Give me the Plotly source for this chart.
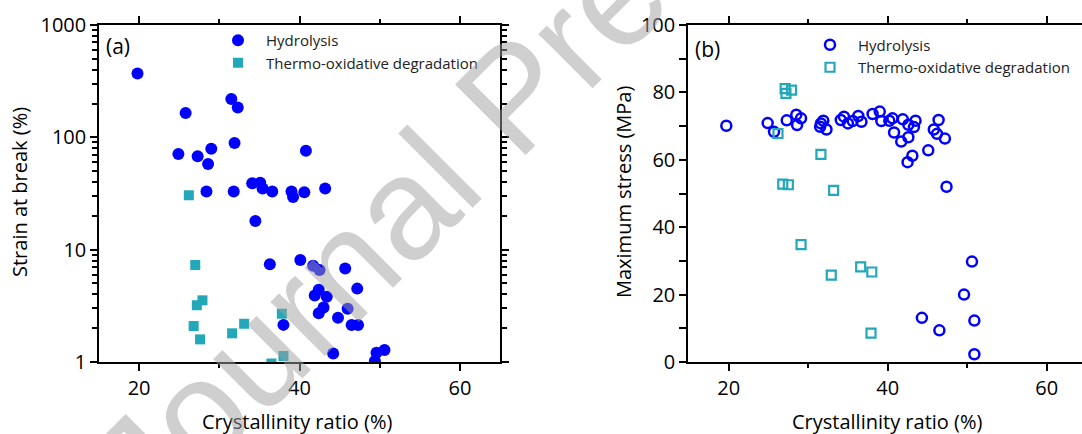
import plotly.graph_objects as go

# ---------------- data ----------------
# (a) Strain at break vs crystallinity
a_hyd_x = [19.8, 25.8, 31.5, 32.3, 24.9, 27.3, 29.0, 28.6, 31.9, 40.8,
           34.1, 35.1, 35.4, 36.6, 28.4, 31.8, 39.0, 39.2, 40.6, 43.2,
           34.5, 36.3, 40.1, 41.7, 42.5, 45.7, 38.0, 42.4, 41.9, 43.4,
           43.0, 42.4, 44.8, 44.2, 47.2, 46.0, 46.5, 47.3, 49.6, 50.6, 49.4]
a_hyd_y = [370, 165, 219, 184, 71, 68, 79, 58, 89, 76,
           39, 39.5, 35, 33, 33, 33, 33, 29.4, 32.4, 35,
           18, 7.4, 8.1, 7.2, 6.6, 6.8, 2.14, 4.4, 3.9, 3.8,
           3.05, 2.72, 2.48, 1.19, 4.5, 2.98, 2.13, 2.13, 1.21, 1.28, 1.02]
a_th_x = [26.2, 27.0, 27.9, 27.2, 26.8, 27.6, 31.6, 33.1, 37.8, 38.0, 36.5]
a_th_y = [30.5, 7.3, 3.54, 3.2, 2.09, 1.59, 1.80, 2.19, 2.69, 1.13, 0.97]

# (b) Maximum stress vs crystallinity
b_hyd_x = [19.7, 24.9, 25.7, 27.3, 28.5, 29.1, 28.6, 31.5, 31.6, 31.9,
           32.3, 34.1, 34.5, 35.0, 35.6, 36.3, 36.7, 38.1, 39.0, 39.2,
           40.2, 40.6, 40.8, 41.9, 41.7, 42.6, 42.6, 43.5, 43.3, 43.1,
           42.5, 45.1, 46.4, 45.8, 46.2, 47.2, 47.4, 50.6, 49.6, 44.3,
           46.5, 50.9, 50.9]
b_hyd_y = [70.1, 70.9, 68.3, 71.7, 73.4, 72.3, 70.3, 69.8, 70.8, 71.6,
           69.0, 71.8, 72.8, 70.8, 71.5, 73.0, 71.3, 73.6, 74.3, 71.5,
           71.6, 72.3, 68.1, 72.0, 65.4, 66.7, 70.4, 71.6, 69.7, 61.2,
           59.3, 62.8, 71.8, 69.0, 67.7, 66.3, 52.0, 29.8, 20.0, 13.1,
           9.4, 12.3, 2.3]
b_th_x = [27.1, 27.9, 27.2, 26.2, 31.6, 26.8, 27.5, 33.2, 29.1, 32.9, 36.6, 38.0, 37.9]
b_th_y = [81.1, 80.7, 79.7, 67.8, 61.6, 52.8, 52.6, 50.9, 34.8, 25.8, 28.2, 26.7, 8.55]

a_ytickvals = [1, 10, 100, 1000]
a_yticktext = ["1", "10", "100", "1000"]

# ---------------- style ----------------
FONT = "Open Sans"
BLUE = "#0000FF"
TEAL = "#22A8B8"
W, H = 1082, 434
MT, MB = 25, 72
PH = H - MT - MB


def px(x):
    return x / W


def py(y):
    return (H - MB - y) / PH


fig = go.Figure()
fig.add_trace(go.Scatter(x=a_hyd_x, y=a_hyd_y, mode="markers", name="Hydrolysis",
                         marker=dict(symbol="circle", size=12, color=BLUE),
                         xaxis="x", yaxis="y", legend="legend"))
fig.add_trace(go.Scatter(x=a_th_x, y=a_th_y, mode="markers", name="Thermo-oxidative degradation",
                         marker=dict(symbol="square", size=10, color=TEAL),
                         xaxis="x", yaxis="y", legend="legend"))
fig.add_trace(go.Scatter(x=b_hyd_x, y=b_hyd_y, mode="markers", name="Hydrolysis",
                         marker=dict(symbol="circle-open", size=10, color=BLUE, line=dict(width=2.5, color=BLUE)),
                         xaxis="x2", yaxis="y2", legend="legend2"))
fig.add_trace(go.Scatter(x=b_th_x, y=b_th_y, mode="markers", name="Thermo-oxidative degradation",
                         marker=dict(symbol="square-open", size=9, color=TEAL, line=dict(width=2.2, color=TEAL)),
                         xaxis="x2", yaxis="y2", legend="legend2"))

axis_common = dict(showline=True, linecolor="black", linewidth=1.5, ticks="outside",
                   ticklen=7, tickwidth=1.5, tickcolor="black", showgrid=False, zeroline=False,
                   tickfont=dict(family=FONT, size=20, color="black"))

fig.update_layout(
    width=W, height=H,
    margin=dict(l=0, r=0, t=MT, b=MB, pad=0),
    paper_bgcolor="white", plot_bgcolor="white",
    font=dict(family=FONT, color="black"),
    xaxis=dict(domain=[px(99), px(500)], range=[15, 65], tickvals=[20, 40, 60], mirror="ticks",
               minor=dict(tickvals=[30, 50], ticks="outside", ticklen=4, tickwidth=1.5, tickcolor="black"),
               anchor="y", **axis_common),
    yaxis=dict(type="log", range=[0, 3], tickvals=a_ytickvals, ticktext=a_yticktext, mirror="ticks",
               minor=dict(tickvals=[m * 10 ** k for k in range(3) for m in range(2, 10)],
                          ticks="outside", ticklen=5, tickwidth=1.5, tickcolor="black"),
               anchor="x", **axis_common),
    xaxis2=dict(domain=[px(688), 1.0], range=[14.88, 64.44], tickvals=[20, 40, 60], mirror="ticks",
                minor=dict(tickvals=[30, 50], ticks="outside", ticklen=4, tickwidth=1.5, tickcolor="black"),
                anchor="y2", **axis_common),
    yaxis2=dict(range=[0, 100], tickvals=[0, 20, 40, 60, 80, 100], mirror=False,
                minor=dict(tickvals=[10, 30, 50, 70, 90], ticks="outside", ticklen=7, tickwidth=1.5, tickcolor="black"),
                anchor="x2", **axis_common),
    legend=dict(x=px(238 - 28), y=py(24), xanchor="left", yanchor="top", itemwidth=46,
                bgcolor="rgba(0,0,0,0)", borderwidth=0, tracegroupgap=0,
                font=dict(family=FONT, size=15, color="#222222")),
    legend2=dict(x=px(830 - 28), y=py(28.5), xanchor="left", yanchor="top", itemwidth=46,
                 bgcolor="rgba(0,0,0,0)", borderwidth=0, tracegroupgap=0,
                 font=dict(family=FONT, size=15, color="#222222")),
    showlegend=True,
)

ann = []
tfont = dict(family=FONT, size=20, color="black")
ann.append(dict(text="(a)", x=px(104), y=py(46), xref="paper", yref="paper", xanchor="left", yanchor="middle",
                showarrow=False, font=dict(family=FONT, size=21, color="black")))
ann.append(dict(text="(b)", x=px(693), y=py(49), xref="paper", yref="paper", xanchor="left", yanchor="middle",
                showarrow=False, font=dict(family=FONT, size=21, color="black")))
ann.append(dict(text="Strain at break (%)", x=px(19), y=py(192), xref="paper", yref="paper", textangle=-90,
                xanchor="center", yanchor="middle", showarrow=False, font=tfont))
ann.append(dict(text="Maximum stress (MPa)", x=px(623), y=py(192), xref="paper", yref="paper", textangle=-90,
                xanchor="center", yanchor="middle", showarrow=False, font=tfont))
ann.append(dict(text="Crystallinity ratio (%)", x=px(297), y=py(421), xref="paper", yref="paper",
                xanchor="center", yanchor="middle", showarrow=False, font=tfont))
ann.append(dict(text="Crystallinity ratio (%)", x=px(887), y=py(421), xref="paper", yref="paper",
                xanchor="center", yanchor="middle", showarrow=False, font=tfont))
# watermark
ann.append(dict(text="Journal Pre-proof", x=px(513), y=py(97), xref="paper", yref="paper", textangle=-45,
                xanchor="center", yanchor="middle", showarrow=False,
                font=dict(family="Liberation Sans", size=145, color="rgba(160,160,160,0.5)")))
fig.update_layout(annotations=ann)

fig.write_html("out.html")
